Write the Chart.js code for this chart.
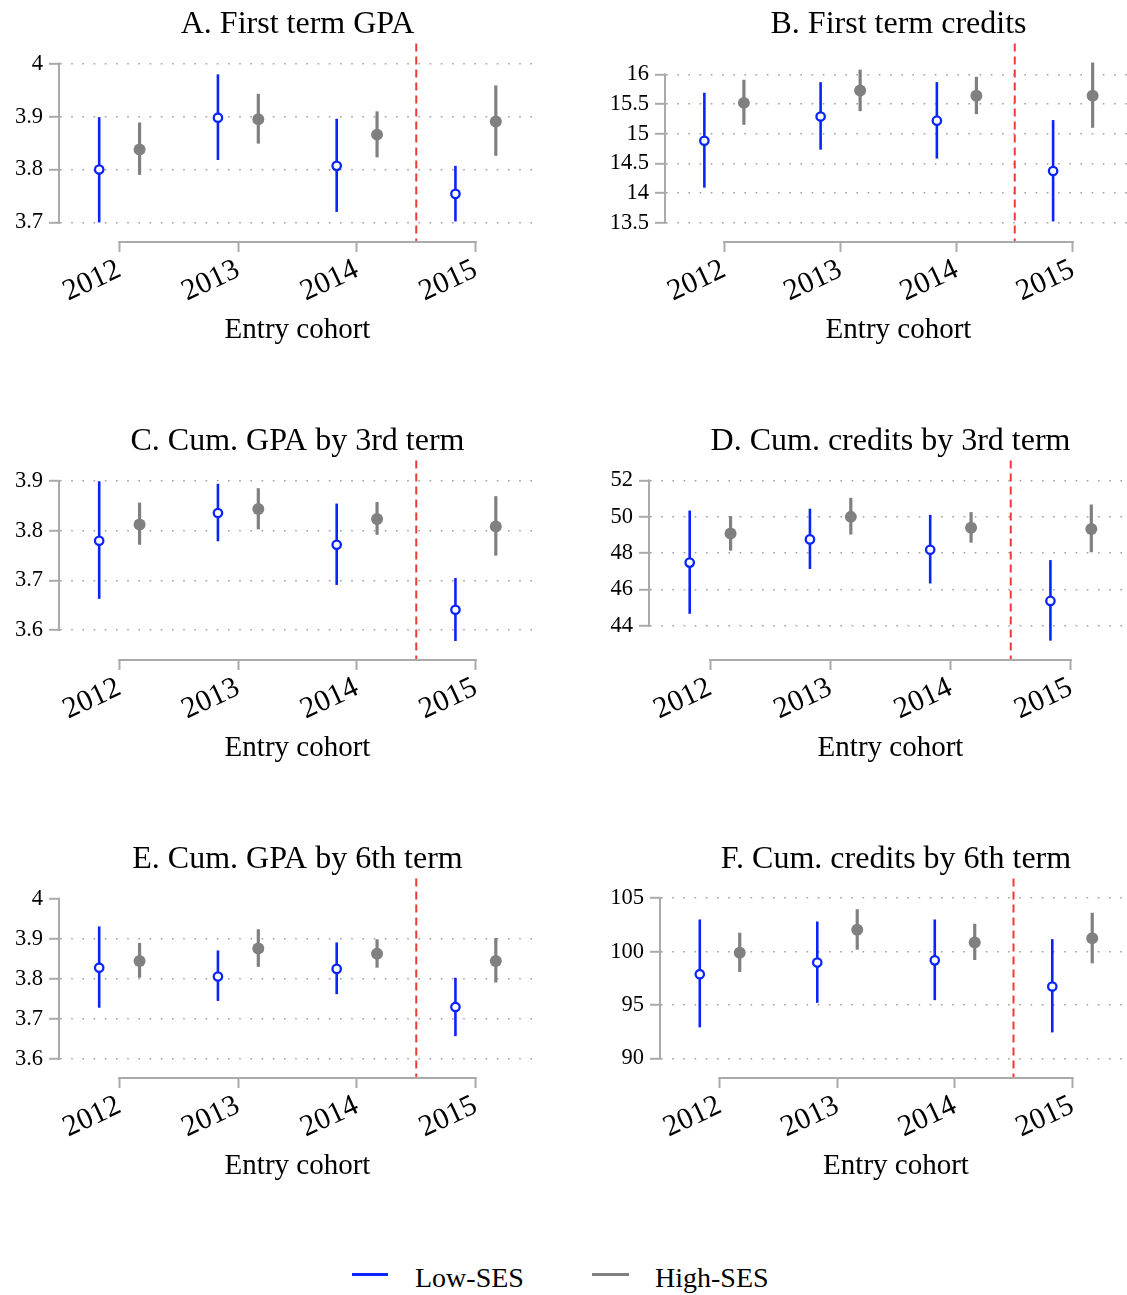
<!DOCTYPE html>
<html>
<head>
<meta charset="utf-8">
<script src="https://cdn.jsdelivr.net/npm/chart.js@4.4.0/dist/chart.umd.min.js"></script>
<style>
  html, body { margin: 0; padding: 0; background: #fff; overflow: hidden; width: 1127px; height: 1295px; }
  canvas { position: absolute; }
  .lg-line { position: absolute; height: 3px; }
  .lg-text { position: absolute; font-family: "Liberation Serif", serif; font-size: 28px; line-height: 28px; color: #000; white-space: nowrap; }
</style>
</head>
<body>
<canvas id="pA" width="535" height="346" style="left:0px;top:2px"></canvas>
<canvas id="pB" width="551" height="346" style="left:580px;top:2px"></canvas>
<canvas id="pC" width="535" height="347" style="left:0px;top:419px"></canvas>
<canvas id="pD" width="551" height="347" style="left:580px;top:419px"></canvas>
<canvas id="pE" width="535" height="347" style="left:0px;top:837px"></canvas>
<canvas id="pF" width="551" height="347" style="left:580px;top:837px"></canvas>

<div class="lg-line" style="left:352px;top:1273px;width:36px;background:#0a24ff"></div>
<div class="lg-text" style="left:415px;top:1264px">Low-SES</div>
<div class="lg-line" style="left:592px;top:1273px;width:37px;background:#808080"></div>
<div class="lg-text" style="left:655px;top:1264px">High-SES</div>

<script>
// cohorts on the x axis
const cohorts = [2012, 2013, 2014, 2015];

// A. First term GPA
const gpa1Low = [3.800, 3.898, 3.807, 3.754];
const gpa1LowCI = [[3.700, 3.899], [3.818, 3.980], [3.720, 3.896], [3.702, 3.807]];
const gpa1High = [3.838, 3.895, 3.866, 3.891];
const gpa1HighCI = [[3.790, 3.889], [3.849, 3.943], [3.823, 3.910], [3.826, 3.959]];
const gpa1Ticks = [3.7, 3.8, 3.9, 4];

// B. First term credits
const cred1Low = [14.88, 15.29, 15.22, 14.37];
const cred1LowCI = [[14.09, 15.69], [14.73, 15.87], [14.58, 15.87], [13.52, 15.23]];
const cred1High = [15.52, 15.73, 15.64, 15.64];
const cred1HighCI = [[15.15, 15.91], [15.38, 16.08], [15.33, 15.96], [15.10, 16.20]];
const cred1Ticks = [13.5, 14, 14.5, 15, 15.5, 16];

// C. Cum. GPA by 3rd term
const gpa3Low = [3.780, 3.836, 3.772, 3.641];
const gpa3LowCI = [[3.663, 3.900], [3.779, 3.895], [3.691, 3.855], [3.578, 3.705]];
const gpa3High = [3.813, 3.844, 3.824, 3.809];
const gpa3HighCI = [[3.772, 3.857], [3.803, 3.886], [3.792, 3.858], [3.750, 3.870]];
const gpa3Ticks = [3.6, 3.7, 3.8, 3.9];

// D. Cum. credits by 3rd term
const cred3Low = [47.48, 48.76, 48.19, 45.37];
const cred3LowCI = [[44.66, 50.35], [47.13, 50.45], [46.33, 50.11], [43.18, 47.62]];
const cred3High = [49.09, 50.00, 49.40, 49.33];
const cred3HighCI = [[48.14, 50.04], [49.03, 51.05], [48.58, 50.26], [48.05, 50.68]];
const cred3Ticks = [44, 46, 48, 50, 52];

// E. Cum. GPA by 6th term
const gpa6Low = [3.828, 3.806, 3.825, 3.730];
const gpa6LowCI = [[3.728, 3.931], [3.745, 3.871], [3.762, 3.891], [3.657, 3.803]];
const gpa6High = [3.845, 3.876, 3.863, 3.845];
const gpa6HighCI = [[3.803, 3.890], [3.830, 3.924], [3.828, 3.899], [3.791, 3.902]];
const gpa6Ticks = [3.6, 3.7, 3.8, 3.9, 4];

// F. Cum. credits by 6th term
const cred6Low = [97.88, 98.97, 99.18, 96.73];
const cred6LowCI = [[92.90, 103.01], [95.20, 102.82], [95.45, 103.01], [92.43, 101.17]];
const cred6High = [99.90, 102.05, 100.86, 101.24];
const cred6HighCI = [[98.09, 101.77], [100.18, 103.97], [99.21, 102.61], [98.90, 103.64]];
const cred6Ticks = [90, 95, 100, 105];

const BLUE = '#0a24ff';
const GRAY = '#808080';
const AXIS = '#aaaaaa';
const RED = '#f23a35';
const DODGE = 0.17;
const CUTOFF = 2014.5;
const FONT = '"Liberation Serif", "Times New Roman", serif';

Chart.defaults.font.family = FONT;
Chart.defaults.color = '#000';

// axis lines, error bars and the cutoff line
const decor = {
    id: 'decor',
    beforeDatasetsDraw(chart, args, opts) {
        const { ctx, chartArea: a, scales: { x, y } } = chart;
        ctx.save();
        ctx.strokeStyle = AXIS;
        ctx.lineWidth = 2;
        ctx.beginPath();
        ctx.moveTo(a.left - 1, y.getPixelForValue(opts.ticks[opts.ticks.length - 1]) - 1);
        ctx.lineTo(a.left - 1, y.getPixelForValue(opts.ticks[0]) + 1);
        ctx.moveTo(x.getPixelForValue(cohorts[0]) - 1, a.bottom + 1);
        ctx.lineTo(x.getPixelForValue(cohorts[cohorts.length - 1]) + 1, a.bottom + 1);
        ctx.stroke();

        ctx.strokeStyle = RED;
        ctx.lineWidth = 2;
        ctx.setLineDash([8, 5]);
        ctx.beginPath();
        ctx.moveTo(x.getPixelForValue(CUTOFF), a.top);
        ctx.lineTo(x.getPixelForValue(CUTOFF), a.bottom);
        ctx.stroke();
        ctx.setLineDash([]);

        const bars = [[opts.lowCI, -DODGE, BLUE, 2.6], [opts.highCI, DODGE, GRAY, 3.2]];
        bars.forEach(([ci, dx, color, w]) => {
            ctx.strokeStyle = color;
            ctx.lineWidth = w;
            ci.forEach((r, i) => {
                const px = x.getPixelForValue(cohorts[i] + dx);
                ctx.beginPath();
                ctx.moveTo(px, y.getPixelForValue(r[0]));
                ctx.lineTo(px, y.getPixelForValue(r[1]));
                ctx.stroke();
            });
        });
        ctx.restore();
    }
};

function makePanel(id, title, low, lowCI, high, highCI, ticks, yMin, yMax, yWidth, skipTopGrid) {
    new Chart(document.getElementById(id), {
        type: 'scatter',
        data: {
            datasets: [
                {
                    data: cohorts.map((c, i) => ({ x: c - DODGE, y: low[i] })),
                    pointRadius: 4.2,
                    pointBorderWidth: 2.3,
                    pointBorderColor: BLUE,
                    pointBackgroundColor: '#fff'
                },
                {
                    data: cohorts.map((c, i) => ({ x: c + DODGE, y: high[i] })),
                    pointRadius: 6,
                    pointBorderWidth: 0,
                    pointBackgroundColor: GRAY
                }
            ]
        },
        options: {
            responsive: false,
            animation: false,
            layout: { padding: 0, autoPadding: false },
            plugins: {
                legend: { display: false },
                tooltip: { enabled: false },
                title: {
                    display: true,
                    text: title,
                    fullSize: false,
                    color: '#000',
                    font: { family: FONT, size: 32, weight: 'normal', lineHeight: 1.2 },
                    padding: { top: 3.2, bottom: 0 }
                },
                decor: { ticks: ticks, lowCI: lowCI, highCI: highCI }
            },
            scales: {
                x: {
                    type: 'linear',
                    min: 2011.5,
                    max: 2015.5,
                    afterBuildTicks: s => { s.ticks = cohorts.map(v => ({ value: v })); },
                    afterFit: s => { s.height = 107; s.paddingLeft = 0; s.paddingRight = 0; },
                    ticks: {
                        autoSkip: false,
                        minRotation: 25,
                        maxRotation: 25,
                        padding: 0,
                        color: '#000',
                        font: { family: FONT, size: 30 },
                        callback: v => String(v)
                    },
                    grid: { drawOnChartArea: false, drawTicks: true, tickLength: 11, tickColor: AXIS, tickWidth: 2 },
                    border: { display: false },
                    title: {
                        display: true,
                        text: 'Entry cohort',
                        color: '#000',
                        font: { family: FONT, size: 29, lineHeight: 1.2 },
                        padding: 0
                    }
                },
                y: {
                    type: 'linear',
                    min: yMin,
                    max: yMax,
                    afterBuildTicks: s => { s.ticks = ticks.map(v => ({ value: v })); },
                    afterFit: s => { s.width = yWidth; s.paddingTop = 0; s.paddingBottom = 0; },
                    ticks: {
                        padding: 6,
                        color: '#000',
                        font: { family: FONT, size: 22.5 },
                        callback: v => String(v)
                    },
                    grid: {
                        color: c => (skipTopGrid && c.tick && c.tick.value === ticks[ticks.length - 1]) ? 'rgba(0,0,0,0)' : '#a0a0a0',
                        lineWidth: 1.6,
                        drawTicks: true,
                        tickLength: 11,
                        tickColor: AXIS,
                        tickWidth: 2,
                        tickBorderDash: []
                    },
                    border: { display: false, dash: [1.6, 9.6] }
                }
            }
        },
        plugins: [decor]
    });
}

makePanel('pA', 'A. First term GPA', gpa1Low, gpa1LowCI, gpa1High, gpa1HighCI, gpa1Ticks, 3.665, 4.038, 60, false);
makePanel('pB', 'B. First term credits', cred1Low, cred1LowCI, cred1High, cred1HighCI, cred1Ticks, 13.19, 16.52, 86, false);
makePanel('pC', 'C. Cum. GPA by 3rd term', gpa3Low, gpa3LowCI, gpa3High, gpa3HighCI, gpa3Ticks, 3.5417, 3.9416, 60, false);
makePanel('pD', 'D. Cum. credits by 3rd term', cred3Low, cred3LowCI, cred3High, cred3HighCI, cred3Ticks, 42.17, 53.10, 70, false);
makePanel('pE', 'E. Cum. GPA by 6th term', gpa6Low, gpa6LowCI, gpa6High, gpa6HighCI, gpa6Ticks, 3.555, 4.0505, 60, true);
makePanel('pF', 'F. Cum. credits by 6th term', cred6Low, cred6LowCI, cred6High, cred6HighCI, cred6Ticks, 88.25, 106.84, 81, false);
</script>
</body>
</html>
